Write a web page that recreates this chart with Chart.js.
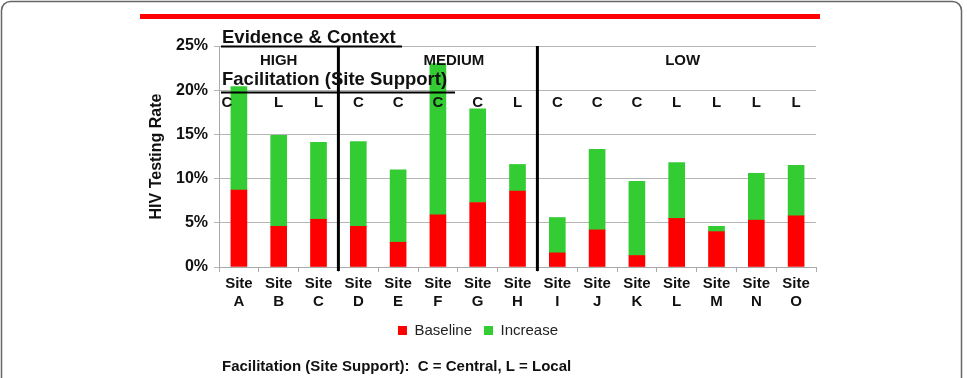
<!DOCTYPE html>
<html>
<head>
<meta charset="utf-8">
<script src="https://cdn.jsdelivr.net/npm/chart.js@4.4.0/dist/chart.umd.min.js"></script>
<style>
  html, body { margin: 0; padding: 0; background: #fff; }
  #wrap { width: 967px; height: 378px; }
</style>
</head>
<body>
<div id="wrap"><canvas id="hivChart" width="967" height="378"></canvas></div>
<script>
// data (% HIV testing rate)
const sites = ["A", "B", "C", "D", "E", "F", "G", "H", "I", "J", "K", "L", "M", "N", "O"];
const baseline = [8.7, 4.6, 5.4, 4.6, 2.8, 5.9, 7.3, 8.6, 1.6, 4.2, 1.3, 5.5, 4.0, 5.3, 5.8];
const increase = [11.7, 10.3, 8.7, 9.6, 8.2, 17.1, 10.6, 3.0, 4.0, 9.1, 8.4, 6.3, 0.6, 5.3, 5.7];
const facilitation = ["C", "L", "L", "C", "C", "C", "C", "L", "C", "C", "C", "L", "L", "L", "L"];
const evidenceGroups = [
  { name: "HIGH", from: 0, to: 2, at: 1 },
  { name: "MEDIUM", from: 3, to: 7, at: 5.4 },
  { name: "LOW", from: 8, to: 14, at: 11.15 }
];
const yTicks = [0, 5, 10, 15, 20, 25];

const FONT = "'Liberation Sans', Arial, Helvetica, sans-serif";
const INK = "#111";

// pixel for a (possibly fractional) category index
const catPx = (x, v) => {
  const i = Math.floor(v);
  const a = x.getPixelForValue(i);
  if (v === i) return a;
  const b = x.getPixelForValue(i + 1);
  return a + (b - a) * (v - i);
};

const overlay = {
  id: "overlay",
  afterDraw(chart) {
    const ctx = chart.ctx;
    const x = chart.scales.x;
    const top = chart.chartArea.top;
    const bottom = chart.chartArea.bottom;
    ctx.save();

    // outer frame (rounded, runs off the bottom)
    ctx.lineWidth = 1.5;
    ctx.strokeStyle = "#666";
    ctx.beginPath();
    ctx.moveTo(1.5, 400);
    ctx.lineTo(1.5, 10);
    ctx.arcTo(1.5, 1.5, 10, 1.5, 9);
    ctx.lineTo(953, 1.5);
    ctx.arcTo(961.5, 1.5, 961.5, 10, 9);
    ctx.lineTo(961.5, 400);
    ctx.stroke();

    // red band
    ctx.fillStyle = "#ff0000";
    ctx.fillRect(140, 14, 680, 5);

    // group separators
    ctx.strokeStyle = "#000";
    ctx.lineWidth = 3;
    [[2, 3], [7, 8]].forEach(([a, b]) => {
      const px = (x.getPixelForValue(a) + x.getPixelForValue(b)) / 2;
      ctx.beginPath();
      ctx.moveTo(px, top);
      ctx.lineTo(px, bottom + 4);
      ctx.stroke();
    });

    // headings
    ctx.fillStyle = INK;
    ctx.textBaseline = "middle";
    ctx.textAlign = "left";
    ctx.font = "bold 18.5px " + FONT;
    ctx.fillText("Evidence & Context", 222, 38);
    ctx.fillText("Facilitation (Site Support)", 222, 80);
    ctx.lineWidth = 2;
    ctx.beginPath();
    ctx.moveTo(221, top + 0.5);
    ctx.lineTo(402, top + 0.5);
    ctx.moveTo(221, 92.5);
    ctx.lineTo(455, 92.5);
    ctx.stroke();

    // evidence levels
    ctx.textAlign = "center";
    ctx.font = "bold 15px " + FONT;
    evidenceGroups.forEach(g => {
      ctx.fillText(g.name, catPx(x, g.at), 61);
    });

    // facilitation row
    facilitation.forEach((f, i) => {
      const dx = i === 0 ? -12 : 0;
      ctx.fillText(f, x.getPixelForValue(i) + dx, 103);
    });

    // footnote
    ctx.textAlign = "left";
    ctx.fillText("Facilitation (Site Support):  C = Central, L = Local", 222, 367);
    ctx.restore();
  }
};

new Chart(document.getElementById("hivChart"), {
  type: "bar",
  data: {
    labels: sites.map(s => ["Site", s]),
    datasets: [
      { label: "Baseline", data: baseline, backgroundColor: "#ff0000" },
      { label: "Increase", data: increase, backgroundColor: "#33cc33" }
    ]
  },
  options: {
    responsive: false,
    animation: false,
    devicePixelRatio: 1,
    barThickness: 16,
    layout: { padding: { left: 140, right: 151, top: 46, bottom: 30 } },
    plugins: {
      legend: {
        position: "bottom",
        labels: {
          boxWidth: 9,
          boxHeight: 9,
          padding: 12,
          color: "#222",
          font: { family: FONT, size: 15 }
        }
      },
      tooltip: { enabled: false }
    },
    scales: {
      x: {
        stacked: true,
        afterFit: s => { s.height = 44; },
        grid: { display: true, drawOnChartArea: false, tickLength: 5, color: "#aaa" },
        border: { color: "#aaa" },
        ticks: {
          color: INK,
          padding: 2,
          maxRotation: 0,
          font: { family: FONT, size: 15, weight: "bold", lineHeight: 1.25 }
        }
      },
      y: {
        stacked: true,
        min: 0,
        max: 25,
        afterFit: s => { s.width = 79; },
        afterBuildTicks: s => { s.ticks = yTicks.map(v => ({ value: v })); },
        grid: { color: "#b5b5b5", tickLength: 5 },
        border: { color: "#aaa" },
        ticks: {
          color: INK,
          padding: 6,
          font: { family: FONT, size: 16, weight: "bold" },
          callback: v => v + "%"
        },
        title: {
          display: true,
          text: "HIV Testing Rate",
          color: INK,
          padding: { top: 7, bottom: 0 },
          font: { family: FONT, size: 16, weight: "bold" }
        }
      }
    }
  },
  plugins: [overlay]
});
</script>
</body>
</html>
